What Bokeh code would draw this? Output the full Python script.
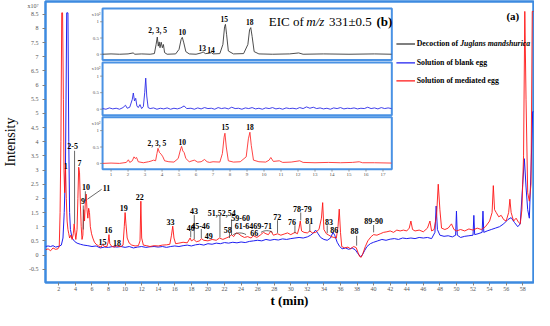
from bokeh.plotting import figure
from bokeh.models import Range1d, FixedTicker
from bokeh.core.properties import value
from bokeh.embed import file_html
from bokeh.resources import INLINE

# ---------------- main chromatograms (t in min, intensity x10^7) ----------------
red_t = [0.4, 0.7, 1.0, 1.3, 1.6, 1.9, 2.05, 2.15, 2.25, 2.35, 2.45, 2.55, 2.62, 2.7, 2.8, 2.9, 3.0, 3.1, 3.2, 3.3,
         3.45, 3.6, 3.75, 3.85, 3.95, 4.05, 4.2, 4.3, 4.4, 4.5, 4.6, 4.7, 4.8, 4.9, 5.0, 5.1, 5.2, 5.3, 5.4, 5.5,
         5.6, 5.7, 5.8, 5.95, 6.1, 6.3, 6.5, 6.8, 7.1, 7.3, 7.5, 7.8, 7.95, 8.05, 8.15, 8.4, 8.7, 9.0, 9.2, 9.5,
         9.75, 9.9, 10.0, 10.1, 10.25, 10.5, 10.8, 11.2, 11.6, 11.8, 11.9, 12.0, 12.2, 12.6, 13.0, 13.5, 14.0, 14.5, 15.0, 15.4,
         15.6, 15.75, 15.9, 16.1, 16.5, 17.0, 17.5, 17.85, 18.0, 18.3, 18.6, 19.0, 19.2, 19.5, 20.0, 20.5, 21.0, 21.4, 21.8, 22.2,
         22.6, 22.85, 23.1, 23.4, 23.7, 24.0, 24.4, 24.8, 25.2, 25.5, 25.9, 26.3, 26.7, 27.0, 27.3, 27.6, 27.9, 28.4, 28.8, 29.2,
         29.6, 30.0, 30.5, 30.8, 31.0, 31.15, 31.3, 31.6, 32.0, 32.3, 32.6, 33.0, 33.4, 33.7, 33.85, 34.0, 34.3, 34.6, 34.9, 35.2,
         35.5, 35.7, 35.85, 36.0, 36.15, 36.5, 36.9, 37.2, 37.6, 37.9, 38.1, 38.3, 38.5, 38.7, 39.0, 39.3, 39.7, 40.0, 40.4, 40.8,
         41.2, 41.6, 42.0, 42.4, 42.8, 43.2, 43.6, 44.0, 44.3, 44.5, 44.7, 45.0, 45.5, 46.0, 46.5, 46.8, 47.0, 47.3, 47.6, 47.8,
         48.0, 48.2, 48.6, 49.0, 49.4, 49.7, 50.0, 50.5, 51.0, 51.5, 52.0, 52.5, 53.0, 53.5, 54.0, 54.3, 54.45, 54.6, 54.8, 55.1,
         55.4, 55.7, 56.0, 56.3, 56.45, 56.6, 56.9, 57.2, 57.5, 57.7, 57.9, 58.1, 58.25, 58.4, 58.6, 58.8, 59.0, 59.15, 59.4]
red_i = [0.18, 0.22, 0.15, 0.25, 0.2, 0.22, 0.3, 1.5, 4.0, 8.55, 8.55, 5.5, 3.0, 2.2, 3.2, 2.0, 1.2, 0.9, 0.75, 0.6,
         0.7, 0.55, 0.75, 1.1, 0.8, 0.55, 0.9, 2.0, 3.1, 2.9, 1.8, 1.0, 0.55, 0.7, 1.6, 1.2, 1.9, 2.15, 1.6, 1.3,
         1.65, 1.5, 1.0, 0.75, 0.6, 0.45, 0.38, 0.32, 0.28, 0.38, 0.3, 0.3, 0.45, 0.72, 0.4, 0.3, 0.28, 0.33, 0.3, 0.3,
         0.35, 1.0, 1.5, 1.1, 0.6, 0.42, 0.35, 0.32, 0.33, 0.5, 1.9, 0.6, 0.35, 0.33, 0.3, 0.33, 0.32, 0.35, 0.36, 0.38,
         0.7, 1.02, 0.6, 0.4, 0.42, 0.45, 0.43, 0.6, 0.5, 0.55, 0.47, 0.5, 0.58, 0.52, 0.5, 0.55, 0.52, 0.6, 0.55, 0.6,
         0.65, 0.72, 0.65, 0.78, 0.75, 0.68, 0.62, 0.65, 0.6, 0.68, 0.62, 0.7, 0.8, 0.75, 0.72, 0.85, 0.7, 0.75, 0.7, 0.74,
         0.78, 0.72, 0.8, 0.75, 0.95, 1.2, 0.85, 0.8, 0.78, 0.85, 0.78, 0.8, 0.9, 1.3, 1.85, 0.9, 0.75, 0.7, 0.65, 0.62,
         0.6, 1.0, 1.62, 0.8, 0.3, 0.25, 0.28, 0.22, 0.3, 0.26, 0.1, -0.05, -0.08, 0.05, 0.3, 0.5, 0.65, 0.72, 0.7, 0.75,
         0.8, 0.82, 0.85, 0.8, 0.88, 0.85, 0.88, 0.85, 0.95, 1.2, 0.9, 0.85, 0.88, 0.82, 0.95, 1.2, 0.85, 0.9, 1.4, 2.5,
         1.6, 0.95, 0.9, 0.95, 1.1, 0.9, 0.85, 0.9, 0.85, 0.92, 0.88, 0.95, 0.9, 1.0, 1.2, 1.5, 2.45, 1.6, 1.5, 1.35,
         1.4, 1.25, 1.2, 1.5, 1.97, 1.5, 1.2, 1.3, 1.15, 1.1, 1.6, 3.5, 8.6, 5.5, 2.2, 1.9, 2.5, 8.6, 8.6]

blue_t = [0.4, 0.7, 1.0, 1.3, 1.6, 1.9, 2.1, 2.3, 2.5, 2.65, 2.8, 2.95, 3.1, 3.2, 3.3, 3.4, 3.6, 3.9, 4.2, 4.6,
          5.0, 5.5, 6.0, 6.5, 7.0, 7.5, 8.0, 8.5, 9.0, 9.5, 10.0, 10.5, 11.0, 11.5, 12.0, 12.5, 13.0, 13.5, 14.0, 14.5,
          15.0, 15.5, 16.0, 16.5, 17.0, 17.5, 18.0, 18.5, 19.0, 19.5, 20.0, 20.5, 21.0, 21.5, 22.0, 22.5, 23.0, 23.5, 24.0, 24.5,
          25.0, 25.5, 26.0, 26.5, 27.0, 27.5, 28.0, 28.5, 29.0, 29.5, 30.0, 30.5, 31.0, 31.5, 32.0, 32.4, 32.8, 33.0, 33.3, 33.6,
          34.0, 34.4, 34.8, 35.1, 35.3, 35.6, 35.9, 36.2, 36.6, 37.0, 37.4, 37.8, 38.1, 38.4, 38.6, 38.9, 39.2, 39.6, 40.0, 40.5,
          41.0, 41.5, 42.0, 42.5, 43.0, 43.5, 44.0, 44.5, 45.0, 45.5, 46.0, 46.5, 47.0, 47.4, 47.55, 47.7, 48.0, 48.5, 49.0, 49.5,
          49.9, 50.0, 50.1, 50.5, 51.0, 51.5, 52.0, 52.1, 52.2, 52.6, 53.1, 53.2, 53.3, 53.7, 54.2, 54.7, 55.2, 55.7, 56.2, 56.6,
          57.0, 57.4, 57.7, 58.0, 58.2, 58.4, 58.6, 58.8, 59.0, 59.2, 59.4]
blue_i = [0.3, 0.32, 0.3, 0.33, 0.28, 0.3, 0.32, 0.35, 0.6, 1.5, 3.0, 8.55, 8.55, 4.0, 1.5, 0.9, 0.6, 0.48, 0.42, 0.38,
          0.35, 0.33, 0.3, 0.32, 0.25, 0.28, 0.27, 0.3, 0.28, 0.3, 0.27, 0.3, 0.25, 0.28, 0.3, 0.27, 0.29, 0.3, 0.28, 0.3,
          0.27, 0.3, 0.32, 0.3, 0.33, 0.35, 0.32, 0.36, 0.38, 0.35, 0.4, 0.38, 0.42, 0.4, 0.44, 0.42, 0.45, 0.43, 0.46, 0.44,
          0.48, 0.5, 0.52, 0.5, 0.55, 0.52, 0.55, 0.53, 0.57, 0.55, 0.58, 0.6, 0.62, 0.6, 0.64, 0.7, 0.8, 0.88, 0.75, 0.62,
          0.55, 0.52, 0.6, 0.8, 0.7, 0.45, 0.3, 0.22, 0.25, 0.2, 0.25, 0.18, 0.05, -0.05, -0.02, 0.15, 0.3, 0.4, 0.45, 0.5,
          0.55, 0.52, 0.56, 0.58, 0.55, 0.6, 0.58, 0.6, 0.58, 0.62, 0.6, 0.62, 0.58, 0.8, 1.73, 0.9, 0.7, 0.66, 0.68, 0.64,
          0.7, 1.55, 0.7, 0.62, 0.66, 0.68, 0.7, 1.4, 0.72, 0.75, 0.8, 1.55, 0.8, 0.85, 0.9, 0.95, 1.0, 1.1, 1.25, 1.32,
          1.15, 1.0, 1.1, 2.5, 3.4, 2.4, 1.6, 1.3, 3.0, 5.06, 5.06]

# ---------------- inset (b): EIC of m/z 331 (x10^2) ----------------
eic_dec_t = [0.5, 1.0, 1.5, 2.0, 2.3, 2.4, 2.8, 3.3, 3.55, 3.65, 3.72, 3.78, 3.83, 3.88, 3.95, 4.02, 4.08, 4.15, 4.3, 4.8,
             5.0, 5.12, 5.19, 5.28, 5.4, 5.6, 6.0, 6.3, 6.42, 6.55, 6.8, 6.9, 7.0, 7.4, 7.58, 7.68, 7.73, 7.8, 7.9, 8.2,
             8.8, 9.05, 9.15, 9.22, 9.3, 9.42, 9.7, 10.5, 11.5, 12.04, 12.3, 13.5, 15.0, 16.5, 17.5]
eic_dec_i = [0.0, 0.01, 0.0, 0.01, 0.04, 0.0, 0.01, 0.0, 0.02, 0.3, 0.53, 0.25, 0.38, 0.2, 0.37, 0.2, 0.3, 0.05, 0.0, 0.01,
             0.15, 0.45, 0.52, 0.35, 0.08, 0.01, 0.0, 0.04, 0.07, 0.02, 0.03, 0.05, 0.01, 0.02, 0.3, 0.85, 0.92, 0.6, 0.1, 0.01,
             0.02, 0.3, 0.75, 0.82, 0.55, 0.08, 0.01, 0.0, 0.01, 0.04, 0.0, 0.01, 0.0, 0.01, 0.0]

eic_blank_t = [0.5, 0.7, 0.9, 1.1, 1.3, 1.5, 1.7, 1.85, 1.95, 2.1, 2.25, 2.31, 2.38, 2.45, 2.52, 2.6, 2.7, 2.8, 2.9, 2.98,
               3.04, 3.1, 3.18, 3.3, 3.5, 3.7, 3.9, 4.1, 4.3, 4.5, 4.7, 4.9, 5.1, 5.3, 5.45, 5.7, 5.9, 6.1, 6.3, 6.5,
               6.7, 6.9, 7.1, 7.3, 7.5, 7.7, 7.9, 8.1, 8.3, 8.5, 8.7, 8.9, 9.1, 9.3, 9.5, 9.7, 9.9, 10.1, 10.3, 10.5,
               10.7, 10.9, 11.1, 11.3, 11.5, 11.7, 11.9, 12.1, 12.3, 12.5, 12.7, 12.9, 13.1, 13.3, 13.5, 13.7, 13.9, 14.1, 14.3, 14.5,
               14.7, 14.9, 15.1, 15.3, 15.5, 15.7, 15.9, 16.1, 16.3, 16.5, 16.7, 16.9, 17.1, 17.3, 17.5]
eic_blank_i = [0.02, 0.0, 0.04, 0.01, 0.03, 0.0, 0.05, 0.12, 0.03, 0.06, 0.3, 0.49, 0.25, 0.33, 0.1, 0.05, 0.14, 0.02, 0.08, 0.5,
               0.94, 0.4, 0.05, 0.02, 0.04, 0.0, 0.03, 0.01, 0.04, 0.0, 0.03, 0.01, 0.04, 0.1, 0.02, 0.03, 0.0, 0.04, 0.01, 0.05,
               0.02, 0.03, 0.0, 0.05, 0.02, 0.04, 0.01, 0.06, 0.02, 0.03, 0.0, 0.04, 0.02, 0.05, 0.01, 0.03, 0.0, 0.04, 0.02, 0.05,
               0.01, 0.03, 0.0, 0.04, 0.02, 0.03, 0.01, 0.05, 0.02, 0.07, 0.03, 0.06, 0.02, 0.04, 0.01, 0.03, 0.0, 0.04, 0.02, 0.05,
               0.01, 0.03, 0.02, 0.04, 0.01, 0.03, 0.02, 0.06, 0.02, 0.04, 0.01, 0.05, 0.02, 0.04, 0.02]

eic_med_t = [0.5, 1.0, 1.5, 1.9, 2.02, 2.1, 2.25, 2.35, 2.42, 2.5, 2.6, 2.9, 3.2, 3.35, 3.5, 3.62, 3.7, 3.76, 3.85, 3.95,
             4.05, 4.15, 4.4, 4.7, 4.95, 5.1, 5.15, 5.22, 5.3, 5.4, 5.6, 5.9, 6.1, 6.3, 6.5, 6.65, 6.8, 7.0, 7.4, 7.55,
             7.65, 7.7, 7.78, 7.9, 8.2, 8.6, 8.95, 9.08, 9.17, 9.25, 9.38, 9.7, 10.1, 10.3, 10.4, 10.55, 10.9, 11.1, 11.6, 12.1,
             12.3, 13.0, 13.8, 14.5, 15.2, 15.6, 15.8, 16.5, 17.5]
eic_med_i = [0.0, 0.01, 0.0, 0.03, 0.11, 0.03, 0.08, 0.2, 0.15, 0.18, 0.05, 0.02, 0.05, 0.07, 0.1, 0.08, 0.3, 0.46, 0.33, 0.28,
             0.2, 0.08, 0.05, 0.04, 0.15, 0.45, 0.52, 0.38, 0.33, 0.15, 0.05, 0.1, 0.04, 0.05, 0.12, 0.05, 0.03, 0.05, 0.04, 0.3,
             0.8, 0.92, 0.5, 0.08, 0.04, 0.05, 0.2, 0.75, 0.95, 0.55, 0.1, 0.05, 0.04, 0.1, 0.18, 0.06, 0.08, 0.03, 0.04, 0.08,
             0.03, 0.02, 0.03, 0.02, 0.03, 0.05, 0.02, 0.02, 0.01]

# ---------------- ticks ----------------
x_ticks = list(range(2, 59, 2))
y_ticks = [-0.5, 0, 0.5, 1, 1.5, 2, 2.5, 3, 3.5, 4, 4.5, 5, 5.5, 6, 6.5, 7, 7.5, 8, 8.5]
y_tick_labels = ["-0.5", "0", "0.5", "1", "1.5", "2", "2.5", "3", "3.5", "4", "4.5", "5", "5.5", "6", "6.5", "7", "7.5", "8", "8.5"]
y_exp_pos, y_exp_label = 8.8, "x10⁷"
in_x_ticks = list(range(1, 18))
in_y_ticks = [0, 0.5, 1]
in_y_tick_labels = ["0", "0.5", "1"]

# ---------------- peak annotations (main) ----------------
pk_text = ["1", "2-5", "7", "9", "10", "11", "15", "16", "18", "19", "22", "33", "40", "43", "45-46", "49",
           "51,52,54", "58", "59-60", "61-64", "66", "69-71", "72", "76", "78-79", "81", "83", "86", "88", "89-90"]
pk_x = [2.84, 3.66, 4.49, 4.92, 5.28, 7.76, 7.28, 7.96, 9.02, 9.85, 11.78, 15.49, 17.92, 18.32, 19.1, 20.1,
        21.67, 22.38, 23.95, 24.35, 25.6, 26.6, 28.37, 30.14, 31.4, 32.23, 34.6, 35.26, 37.7, 40.0]
pk_y = [3.13, 3.85, 3.25, 1.9, 2.4, 2.37, 0.47, 0.88, 0.44, 1.65, 2.05, 1.17, 0.97, 1.55, 1.03, 0.68,
        1.5, 0.89, 1.3, 1.03, 0.77, 1.03, 1.34, 1.17, 1.61, 1.2, 1.17, 0.88, 0.85, 1.2]
# leader lines: x, top, bottom
ld_x = [3.9, 4.95, 5.2, 17.92, 18.35, 19.2, 21.45, 22.6, 22.85, 28.4, 30.5, 31.2, 32.3, 34.4, 37.95, 40.0]
ld_top = [3.68, 1.75, 2.25, 0.86, 1.41, 0.92, 1.38, 0.79, 1.25, 1.23, 1.05, 1.5, 1.1, 1.05, 0.68, 1.06]
ld_bot = [1.1, 0.9, 1.9, 0.62, 0.56, 0.6, 0.62, 0.6, 0.7, 0.78, 0.77, 1.22, 0.82, 0.77, 0.33, 0.8]

# inset peak labels
b1_text = ["2, 3, 5", "10", "13", "14", "15", "18"]
b1_x = [3.74, 5.19, 6.37, 6.88, 7.66, 9.16]
b1_y = [0.73, 0.7, 0.18, 0.13, 1.09, 0.99]
b3_text = ["2, 3, 5", "10", "15", "18"]
b3_x = [3.7, 5.19, 7.72, 9.18]
b3_y = [0.6, 0.65, 1.1, 1.12]

# ---------------- layout (page pixels; canvas starts at page 8,8) ----------------
W, H = 534, 310
FR_L, FR_R, FR_T, FR_B = 45, 541, 9, 292
X0, X1 = 0.39, 59.3
Y0, Y1 = -0.97, 8.95
IN_L, IN_R = 103, 397
IN_T0, IN_T1 = 0.5, 17.52
PANELS = [(16, 68), (70.5, 123.5), (125.5, 178)]
PB0, PB1 = -0.18, 1.41

SERIF = "Liberation Serif"
FRAME_BLUE = "#3d8ae0"
PANEL_BLUE = "#4a92e4"
RED = "#ff1414"
BLUE = "#1e1ef0"

p = figure(width=W, height=H, x_range=Range1d(X0, X1), y_range=Range1d(Y0, Y1),
           output_backend="svg", toolbar_location=None,
           min_border_left=FR_L - 8, min_border_right=8 + W - FR_R, min_border_top=FR_T - 8,
           min_border_bottom=8 + H - FR_B)
p.background_fill_color = "white"
p.border_fill_color = "white"
p.outline_line_color = FRAME_BLUE
p.outline_line_width = 2.5
p.grid.visible = False

p.xaxis.ticker = FixedTicker(ticks=x_ticks)
# major ticks carry the labels (incl. the x10^7 exponent); minor ticks draw the tick marks
p.yaxis.ticker = FixedTicker(ticks=y_ticks + [y_exp_pos], minor_ticks=y_ticks)
overrides = {t: l for t, l in zip(y_ticks, y_tick_labels)}
overrides[y_exp_pos] = y_exp_label
p.yaxis.major_label_overrides = overrides
for ax in (p.xaxis[0], p.yaxis[0]):
    ax.axis_line_color = None
    ax.major_tick_line_color = "#808080"
    ax.major_tick_in = 0
    ax.major_tick_out = 3
    ax.minor_tick_line_color = None
    ax.major_label_text_font = SERIF
    ax.major_label_text_font_size = "6px"
    ax.major_label_text_color = "#555555"
    ax.major_label_standoff = 1
    ax.axis_label_text_font = SERIF
    ax.axis_label_text_color = "black"
p.yaxis.major_tick_line_color = None
p.yaxis.minor_tick_line_color = "#808080"
p.yaxis.minor_tick_in = 0
p.yaxis.minor_tick_out = 3
p.yaxis.major_label_standoff = 4
p.xaxis.axis_label = "t (min)"
p.xaxis.axis_label_text_font_size = "13px"
p.xaxis.axis_label_text_font_style = "bold"
p.xaxis.axis_label_standoff = -1
p.yaxis.axis_label = "Intensity"
p.yaxis.axis_label_text_font_size = "14px"
p.yaxis.axis_label_text_font_style = "normal"
p.yaxis.axis_label_standoff = 6

# main traces
p.line(blue_t, blue_i, line_color=BLUE, line_width=1)
p.line(red_t, red_i, line_color=RED, line_width=1, line_alpha=0.9)

# main annotations
p.segment(x0=ld_x, y0=ld_top, x1=ld_x, y1=ld_bot, line_color="#444444", line_width=0.8)
p.segment(x0=[7.17], y0=[2.32], x1=[5.45], y1=[1.97], line_color="#444444", line_width=0.8)
p.bezier(x0=[23.05, 26.4], y0=[0.72, 0.8], x1=[24.6, 27.8], y1=[0.72, 0.8],
         cx0=[23.5, 26.8], cy0=[0.8, 0.88], cx1=[24.15, 27.4], cy1=[0.8, 0.88],
         line_color="#444444", line_width=0.8)
p.text(x=pk_x, y=pk_y, text=pk_text, text_font=value(SERIF), text_font_style="bold",
       text_font_size="8px", text_align="center", text_baseline="middle", text_color="black")

p.text(x=[56.8], y=[8.43], text=["(a)"], text_font=value(SERIF), text_font_style="bold",
       text_font_size="11px", text_align="center", text_baseline="middle")

# legend (manual, to allow italic species name)
leg_y = [7.45, 6.78, 6.15]
p.segment(x0=[42.75] * 3, y0=leg_y, x1=[45.0] * 3, y1=leg_y, line_color=["black", BLUE, RED], line_width=1.2)
p.text(x=[45.2] * 3, y=leg_y, text=["Decoction of", "Solution of blank egg", "Solution of mediated egg"],
       text_font=value(SERIF), text_font_style="bold", text_font_size="7.8px", text_baseline="middle")
p.text(x=[50.45], y=[leg_y[0]], text=["Juglans mandshurica"], text_font=value(SERIF),
       text_font_style="bold italic", text_font_size="7.8px", text_baseline="middle")

# ---------------- inset ranges ----------------
sx = (IN_R - IN_L) / (IN_T1 - IN_T0)
p.extra_x_ranges = {"ix": Range1d(IN_T0 - (IN_L - FR_L) / sx, IN_T1 + (FR_R - IN_R) / sx)}
yr = {}
for k, (top, bot) in enumerate(PANELS):
    s = (bot - top) / (PB1 - PB0)
    yr[f"p{k}"] = Range1d(PB0 - (FR_B - bot) / s, PB1 + (top - FR_T) / s)
p.extra_y_ranges = yr

traces = [(eic_dec_t, eic_dec_i, "#3a3a3a"), (eic_blank_t, eic_blank_i, "#2a2ae8"), (eic_med_t, eic_med_i, "#ff3030")]
for k, (tt, ii, col) in enumerate(traces):
    rn = f"p{k}"
    p.quad(left=[IN_T0], right=[IN_T1], bottom=[PB0], top=[PB1], fill_color="white",
           line_color=PANEL_BLUE, line_width=2, x_range_name="ix", y_range_name=rn)
    p.line(tt, ii, line_color=col, line_width=0.9, x_range_name="ix", y_range_name=rn)
    # y ticks
    p.segment(x0=[IN_T0] * 3, y0=in_y_ticks, x1=[IN_T0 - 2.5 / sx] * 3, y1=in_y_ticks,
              line_color="#808080", line_width=0.8, x_range_name="ix", y_range_name=rn)
    p.text(x=[IN_T0 - 3.5 / sx] * 3, y=in_y_ticks, text=in_y_tick_labels, text_font=value(SERIF),
           text_font_size="5px", text_color="#555555", text_align="right", text_baseline="middle",
           x_range_name="ix", y_range_name=rn)
    p.text(x=[IN_T0 - 2 / sx], y=[1.22], text=["x10²"], text_font=value(SERIF),
           text_font_size="5px", text_color="#555555", text_align="right", text_baseline="middle",
           x_range_name="ix", y_range_name=rn)

# inset x axis (below the third panel)
p.segment(x0=in_x_ticks, y0=[PB0] * len(in_x_ticks), x1=in_x_ticks, y1=[PB0 - 0.07] * len(in_x_ticks),
          line_color="#808080", line_width=0.8, x_range_name="ix", y_range_name="p2")
p.text(x=in_x_ticks, y=[PB0 - 0.17] * len(in_x_ticks), text=[str(t) for t in in_x_ticks],
       text_font=value(SERIF), text_font_size="5px", text_color="#555555", text_align="center",
       text_baseline="middle", x_range_name="ix", y_range_name="p2")

# inset peak labels
p.text(x=b1_x, y=b1_y, text=b1_text, text_font=value(SERIF), text_font_style="bold", text_font_size="7.5px",
       text_align="center", text_baseline="middle", x_range_name="ix", y_range_name="p0")
p.text(x=b3_x, y=b3_y, text=b3_text, text_font=value(SERIF), text_font_style="bold", text_font_size="7.5px",
       text_align="center", text_baseline="middle", x_range_name="ix", y_range_name="p2")

# inset title: EIC of m/z 331±0.5 (b)
tx = [10.28, 12.49, 13.82, 16.62]
ty = 1.0
p.text(x=[tx[0]], y=[ty], text=["EIC of"], text_font=value(SERIF), text_font_size="13px",
       text_baseline="middle", x_range_name="ix", y_range_name="p0")
p.text(x=[tx[1]], y=[ty], text=["m/z"], text_font=value(SERIF), text_font_style="italic", text_font_size="13px",
       text_baseline="middle", x_range_name="ix", y_range_name="p0")
p.text(x=[tx[2]], y=[ty], text=["331±0.5"], text_font=value(SERIF), text_font_size="13px",
       text_baseline="middle", x_range_name="ix", y_range_name="p0")
p.text(x=[tx[3]], y=[ty], text=["(b)"], text_font=value(SERIF), text_font_style="bold", text_font_size="13px",
       text_baseline="middle", x_range_name="ix", y_range_name="p0")

open("out.html", "w").write(file_html(p, INLINE))
